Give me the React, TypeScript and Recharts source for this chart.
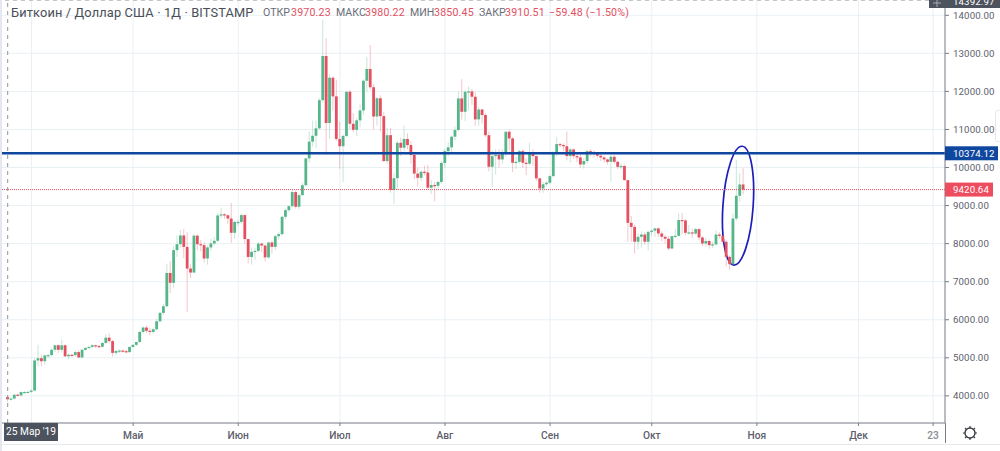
import React from "react";
import { ComposedChart, Bar, XAxis, YAxis, CartesianGrid, ReferenceLine, ReferenceArea } from "recharts";

const opens = [3970,3910,3930,4030,4010,4090,4100,4105,4140,4930,4990,4910,5060,5070,5210,5330,5210,5330,5040,5080,5070,5150,5010,5210,5260,5285,5330,5310,5290,5390,5530,5440,5130,5180,5190,5175,5150,5285,5340,5415,5680,5795,5710,5680,5750,5960,6180,6355,7230,6970,7830,7985,8215,7915,7345,7240,8210,7985,7960,7610,7900,8005,8075,8740,8770,8745,8660,8285,8570,8570,8750,8120,7650,7785,7810,8000,7950,7640,8030,7915,8195,8250,8705,8880,8985,9355,8970,9275,9535,10240,10680,10835,11030,11770,12930,11170,12360,11870,10750,10560,10830,11990,11150,10990,11240,11500,12280,12590,12110,11340,11820,11350,10170,10850,9410,9720,10650,10520,10750,10590,10330,9840,9730,9890,9870,9470,9540,9520,9620,10120,10430,10530,10810,10985,11815,11465,11990,12000,11860,11265,11525,11380,10850,10020,10300,10330,10213,10370,10940,10765,10125,10150,10430,10125,10100,10370,10300,9715,9450,9560,9600,9775,10370,10616,10590,10560,10300,10476,10300,10265,10080,10170,10430,10410,10370,10310,10265,10213,10150,10283,10150,10020,10040,9670,8547,8440,8050,8180,8240,8050,8310,8340,8400,8267,8180,8130,7872,8197,8205,8620,8610,8285,8295,8265,8381,8162,8004,8070,7960,7980,8240,8205,8050,7653,7460,8660,9257,9555];
const highs = [3980,3960,4050,4060,4120,4130,4130,4170,5000,5340,5080,5090,5110,5250,5340,5350,5480,5350,5110,5110,5190,5200,5240,5280,5320,5360,5350,5340,5410,5620,5640,5470,5210,5220,5220,5210,5300,5360,5430,5710,5830,5850,5790,5790,6030,6210,6420,7470,7540,7930,8220,8360,8390,8300,7460,8250,8240,8100,8030,7950,8130,8170,8800,8950,8810,8770,9070,8610,8630,8800,8770,8130,7900,7890,8040,8040,7970,8050,8080,8230,8300,8720,8920,9000,9420,9400,9320,9600,10250,10950,11230,11240,11830,13880,13400,12450,12400,12310,11200,10870,12010,12040,11430,11300,11650,12320,12910,13220,12200,11850,11900,11450,11040,11040,9850,10700,10780,11100,10900,10700,10380,10000,9920,10050,10070,9670,9620,9650,10170,10490,10660,10840,11080,12000,12320,12030,12130,12060,11980,11590,11530,11430,10950,10450,10480,10480,10480,10950,11000,10800,10280,10470,10480,10240,10650,10480,10320,9730,9620,9640,9800,10430,10800,10650,10640,10950,10520,10500,10400,10350,10250,10470,10480,10450,10400,10360,10300,10240,10330,10330,10180,10110,10080,9680,8730,8500,8270,8320,8300,8330,8380,8420,8420,8320,8220,8200,8210,8390,8800,8810,8640,8490,8400,8420,8400,8200,8160,8110,8050,8340,8300,8230,8100,7700,8800,10200,9850,9980];
const lows = [3850,3880,3910,3990,3990,4070,4080,4085,4130,4780,4780,4820,4990,5040,5150,5130,5140,5020,4960,5030,5030,4990,4990,5190,5240,5260,5260,5260,5270,5360,5380,5030,5060,5120,5130,5120,5130,5260,5310,5400,5640,5650,5590,5640,5720,5930,6140,6340,6700,6840,7650,7900,7620,6200,7100,7230,7830,7800,7500,7450,7800,7950,8050,8670,8650,8520,8020,8130,8460,8530,8000,7480,7450,7570,7780,7780,7530,7600,7740,7830,8100,8210,8640,8830,8940,8920,8900,9260,9510,10130,10550,10520,11000,11700,10330,10760,11500,10700,9970,9620,10800,11000,10930,10830,11050,11400,12000,12050,11000,11100,10950,10150,10100,9340,9050,9400,10300,10430,10480,10100,9700,9500,9640,9800,9430,9300,9110,9400,9580,10000,10300,10350,10710,10950,11260,11220,11500,11650,11100,11100,11160,10800,9900,9490,9820,10000,10100,10280,10450,9880,9960,10100,9990,9800,10050,10050,9650,9340,9340,9500,9560,9740,10300,10530,10430,10190,10130,10230,10150,9990,9970,10100,10300,10260,10250,10170,10130,10080,9630,10100,9960,9950,9650,8050,8050,7740,7850,7900,7980,7820,8200,8180,8180,8060,8000,7820,7850,8150,8190,8250,8230,8240,8150,8230,8090,7940,7920,7870,7880,7950,8130,8030,7400,7320,7400,8600,9100,9300];
const closes = [3910,3930,4030,4010,4100,4100,4105,4140,4930,4990,4910,5060,5070,5210,5330,5210,5330,5040,5080,5070,5150,5010,5210,5260,5285,5330,5310,5290,5390,5530,5440,5130,5180,5190,5175,5150,5285,5340,5415,5680,5795,5710,5680,5750,5960,6180,6355,7230,6970,7830,7985,8215,7915,7345,7240,8210,7985,7960,7610,7900,8005,8075,8740,8770,8745,8660,8285,8570,8570,8750,8120,7650,7785,7810,8000,7950,7640,8030,7915,8195,8250,8705,8880,8985,9355,8970,9275,9535,10240,10680,10835,11030,11770,12930,11170,12360,11870,10750,10560,10830,11990,11150,10990,11240,11500,12280,12590,12110,11340,11820,11350,10170,10850,9410,9720,10650,10520,10750,10590,10330,9840,9730,9890,9870,9470,9540,9520,9620,10120,10430,10530,10810,10985,11815,11465,11990,12000,11860,11265,11525,11380,10850,10020,10300,10330,10213,10370,10940,10765,10125,10150,10430,10125,10100,10370,10300,9715,9450,9560,9600,9775,10370,10616,10590,10560,10300,10476,10300,10265,10080,10170,10430,10410,10370,10310,10265,10213,10150,10283,10150,10020,10040,9670,8547,8440,8050,8180,8240,8050,8310,8340,8400,8267,8180,8130,7872,8197,8205,8620,8610,8285,8295,8265,8381,8162,8004,8070,7960,7980,8240,8205,8050,7653,7460,8660,9257,9555,9420];

const priceTicks = [4000,5000,6000,7000,8000,9000,10000,11000,12000,13000,14000];
const resistance = 10374.12;
const lastPrice = 9420.64;
const crossPrice = 14392.97;
const dayTicks = [7,37,68,98,129,160,190,221,251,273];
const dayLabels = ["","Май","Июн","Июл","Авг","Сен","Окт","Ноя","Дек","23"];
const circledDays = [210.7,220.2];
const circledPrices = [7434,10563];

const FONT = "Roboto, 'Open Sans', sans-serif";
const GREEN = "#55b68a";
const RED = "#e4505f";

const rows = opens.map((o,i)=>({day:i,open:o,high:highs[i],low:lows[i],close:closes[i]}));

function Candle(p:any){
  const {x,y,width,height,payload}=p;
  const k=height/(payload.high-payload.low);
  const top=y+(payload.high-Math.max(payload.open,payload.close))*k;
  const h=Math.max(Math.abs(payload.open-payload.close)*k,1.2);
  const c=payload.close>=payload.open?GREEN:RED;
  const cx=x+width/2;
  return <g>
    <rect x={cx-0.5} y={y} width={1} height={height} fill={c} opacity={0.33}/>
    <rect x={cx-1.4} y={top} width={2.8} height={h} fill={c}/>
  </g>;
}

function PriceTick(p:any){
  const {y,payload}=p;
  const v=payload.value;
  const txt=Number(v).toFixed(2);
  const tf={fontFamily:FONT,fontSize:9.7,letterSpacing:0.1};
  if(v===resistance) return <g><rect x={945} y={y-7} width={53} height={14} fill="#0f479f"/><text x={953} y={y+3.5} fill="#fff" {...tf}>{txt}</text></g>;
  if(v===lastPrice) return <g><rect x={945} y={y-7} width={48} height={14} fill="#ee4d60"/><text x={953} y={y+3.5} fill="#fff" {...tf}>{txt}</text></g>;
  if(v===crossPrice) return <g><rect x={929} y={-8} width={71} height={16} fill="#4c525e"/><text x={953} y={y+5} fill="#fff" {...tf}>{txt}</text><path d="M933 3H941M937 -1V7" stroke="#aaa" strokeWidth={1}/></g>;
  return <text x={953} y={y+3.5} fill="#5d606b" {...tf}>{txt}</text>;
}

function TimeTick(p:any){
  const {x,y,payload}=p;
  const label=dayLabels[dayTicks.indexOf(payload.value)];
  return <text x={x} y={y+11} textAnchor="middle" fill={label==="23"?"#8a8d96":"#5d606b"} fontFamily={FONT} fontSize={10.2} fontWeight={500}>{label}</text>;
}

function Oval(p:any){
  const {x,y,width,height}=p;
  const cx=x+width/2, cy=y+height/2;
  return <ellipse cx={cx} cy={cy} rx={width/2-1} ry={height/2} fill="none" stroke="#1d1dbb" strokeWidth={1.7} transform={`rotate(4 ${cx} ${cy})`}/>;
}

const abs=(s:React.CSSProperties):React.CSSProperties=>({position:"absolute",...s});
const hdr=(left:number,color:string,text:string)=><span style={abs({left,top:6,color,fontSize:10.6,whiteSpace:"nowrap",letterSpacing:color==="#e4505f"?0.2:0})}>{text}</span>;

export default function App(){
  return <div style={abs({left:0,top:0,width:1000,height:451,background:"#fff",overflow:"hidden",fontFamily:FONT})}>
    <ComposedChart width={1000} height={451} data={rows} margin={{top:0,right:0,bottom:0,left:0}}>
      <CartesianGrid stroke="#e9f0f4" strokeWidth={1} horizontalValues={priceTicks} verticalValues={dayTicks}/>
      <XAxis dataKey="day" type="number" domain={[-2.27,276.5]} allowDataOverflow ticks={dayTicks} interval={0} height={28} tick={<TimeTick/>} tickSize={3} axisLine={{stroke:"#787b86"}} tickLine={{stroke:"#787b86"}}/>
      <YAxis orientation="right" type="number" width={55} domain={[3287,14402]} allowDataOverflow ticks={[...priceTicks,resistance,lastPrice,crossPrice]} interval={0} tick={<PriceTick/>} tickSize={4} axisLine={{stroke:"#787b86"}} tickLine={{stroke:"#787b86"}}/>
      <ReferenceLine y={lastPrice} stroke="#ee4d60" strokeWidth={1} strokeDasharray="1 1"/>
      <Bar dataKey={(d:any)=>[d.low,d.high]} barSize={3} isAnimationActive={false} shape={<Candle/>}/>
      <ReferenceLine y={resistance} stroke="#0f479f" strokeWidth={2.4}/>
      <ReferenceLine y={crossPrice} stroke="#b5b8be" strokeDasharray="4 4"/>
      <ReferenceLine x={0} stroke="#8f939c" strokeDasharray="4 4"/>
      <ReferenceArea x1={circledDays[0]} x2={circledDays[1]} y1={circledPrices[0]} y2={circledPrices[1]} shape={<Oval/>} ifOverflow="visible"/>
    </ComposedChart>
    <div style={abs({left:0,top:0,width:2,height:451,background:"#e6e7f0"})}/>
    <div style={abs({left:945,top:423,width:1,height:20,background:"#787b86"})}/>
    <div style={abs({left:0,top:444,width:1000,height:1,background:"#e6e8ea"})}/>
    <div style={abs({left:4,top:423,width:54,height:18,background:"#4c525e",color:"#fff",fontSize:10.2,lineHeight:"18px",textAlign:"center",whiteSpace:"nowrap"})}>25 Мар '19</div>
    <span style={abs({left:11,top:5,color:"#4a4e57",fontSize:12.8,whiteSpace:"nowrap",letterSpacing:0.15})}>Биткоин / Доллар США · 1Д · BITSTAMP</span>
    {hdr(263,"#6a6d78","ОТКР")}{hdr(291,"#e4505f","3970.23")}
    {hdr(336,"#6a6d78","МАКС")}{hdr(365,"#e4505f","3980.22")}
    {hdr(410,"#6a6d78","МИН")}{hdr(434,"#e4505f","3850.45")}
    {hdr(479,"#6a6d78","ЗАКР")}{hdr(505,"#e4505f","3910.51")}
    {hdr(549,"#e4505f","−59.48 (−1.50%)")}
    <div style={abs({left:995,top:110,width:8,height:32,background:"#fff",border:"1px solid #e6e8ea",borderRadius:3,boxSizing:"border-box"})}/>
    <svg style={abs({left:960,top:423})} width={20} height={20}>
      <circle cx={10} cy={10} r={5} fill="none" stroke="#3a3d45" strokeWidth={1.4}/>
      <path d="M10 3V5M10 15V17M3 10H5M15 10H17M5 5L6.4 6.4M15 5L13.6 6.4M5 15L6.4 13.6M15 15L13.6 13.6" stroke="#3a3d45" strokeWidth={1.2}/>
    </svg>
  </div>;
}
